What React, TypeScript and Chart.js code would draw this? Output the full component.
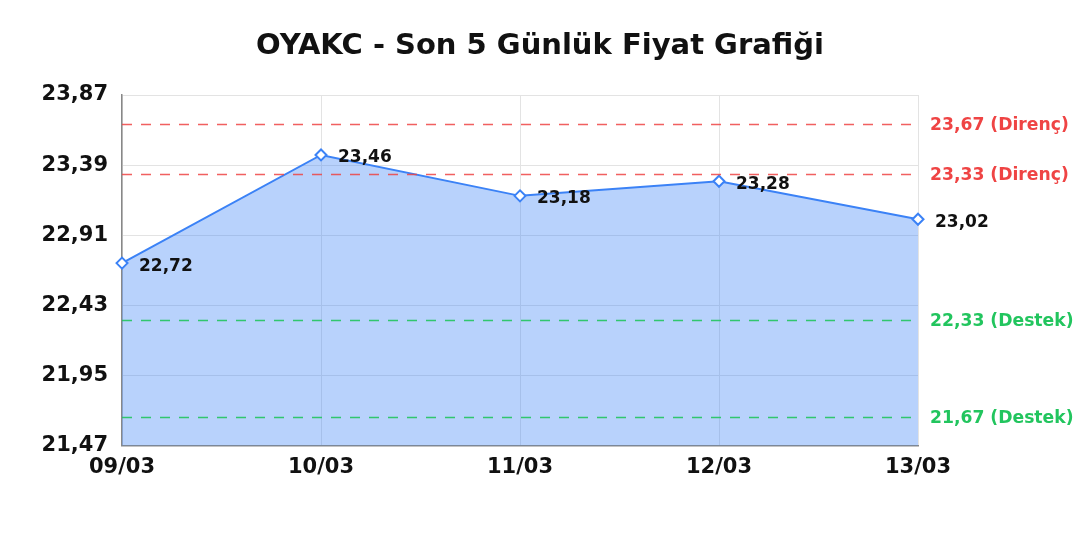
import { useEffect, useRef } from 'react'
import { Chart, registerables } from 'chart.js'

Chart.register(...registerables)

const days = ['09/03', '10/03', '11/03', '12/03', '13/03']
const prices = [22.72, 23.46, 23.18, 23.28, 23.02]
const yTicks = [21.47, 21.95, 22.43, 22.91, 23.39, 23.87]
const resistance = [23.67, 23.33]
const support = [22.33, 21.67]
const title = 'OYAKC - Son 5 Günlük Fiyat Grafiği'

const FONT = 'DejaVu Sans'
const fmt = (v: number) => v.toFixed(2).replace('.', ',')

const levelsPlugin = {
  id: 'levels',
  afterDatasetsDraw(chart: Chart) {
    const { ctx, chartArea } = chart
    const y = chart.scales.y
    const lines = [
      ...resistance.map((v) => ({ v, color: 'rgba(239,68,68,0.85)', text: '#ef4444', label: 'Direnç' })),
      ...support.map((v) => ({ v, color: 'rgba(34,197,94,0.9)', text: '#22c55e', label: 'Destek' })),
    ]
    ctx.save()
    for (const l of lines) {
      const py = Math.round(y.getPixelForValue(l.v)) + 0.5
      ctx.strokeStyle = l.color
      ctx.lineWidth = 1.5
      ctx.setLineDash([10, 9])
      ctx.beginPath()
      ctx.moveTo(chartArea.left, py)
      ctx.lineTo(chartArea.right, py)
      ctx.stroke()
      ctx.setLineDash([])
      ctx.fillStyle = l.text
      ctx.font = `bold 17.2px "${FONT}"`
      ctx.textAlign = 'left'
      ctx.textBaseline = 'middle'
      ctx.fillText(`${fmt(l.v)} (${l.label})`, chartArea.right + 12, py + 1)
    }
    // point value labels
    const meta = chart.getDatasetMeta(0)
    ctx.fillStyle = '#111'
    ctx.font = `bold 17px "${FONT}"`
    meta.data.forEach((pt, i) => {
      ctx.fillText(fmt(prices[i]), pt.x + 17, pt.y + 3)
    })
    // title, centred on the whole canvas
    ctx.font = `bold 29px "${FONT}"`
    ctx.textAlign = 'center'
    ctx.fillText(title, chart.width / 2, 46)
    ctx.restore()
  },
}

export default function App() {
  const ref = useRef<HTMLCanvasElement>(null)

  useEffect(() => {
    if (!ref.current) return
    const chart = new Chart(ref.current, {
      type: 'line',
      data: {
        labels: days,
        datasets: [
          {
            data: prices,
            borderColor: '#3b82f6',
            borderWidth: 2,
            backgroundColor: 'rgba(59,130,246,0.36)',
            fill: 'start',
            tension: 0,
            pointStyle: 'rectRot',
            pointRadius: 5.5,
            pointBorderWidth: 2,
            pointBackgroundColor: '#fff',
            pointBorderColor: '#3b82f6',
          },
        ],
      },
      options: {
        animation: false,
        responsive: true,
        maintainAspectRatio: false,
        layout: { padding: { left: 0, top: 95, right: 162, bottom: 51 } },
        plugins: {
          legend: { display: false },
          tooltip: { enabled: false },
          title: { display: false },
        },
        scales: {
          x: {
            offset: false,
            grid: { color: '#e3e3e3', drawTicks: false },
            border: { color: '#888', width: 1.5 },
            ticks: {
              color: '#111',
              padding: 9,
              maxRotation: 0,
              font: { family: FONT, size: 21, weight: 'bold' },
            },
          },
          y: {
            min: 21.47,
            max: 23.87,
            afterBuildTicks: (s) => {
              s.ticks = yTicks.map((v) => ({ value: v }))
            },
            afterFit: (s) => {
              s.width = 122
            },
            grid: { color: '#e3e3e3', drawTicks: false },
            border: { color: '#888', width: 1.5 },
            ticks: {
              color: '#111',
              padding: 14,
              font: { family: FONT, size: 21, weight: 'bold' },
              callback: (v) => fmt(Number(v)),
            },
          },
        },
      },
      plugins: [levelsPlugin],
    })
    return () => chart.destroy()
  }, [])

  return (
    <div style={{ position: 'fixed', left: 0, top: 0, width: 1080, height: 540, background: '#fff' }}>
      <canvas ref={ref} />
    </div>
  )
}
